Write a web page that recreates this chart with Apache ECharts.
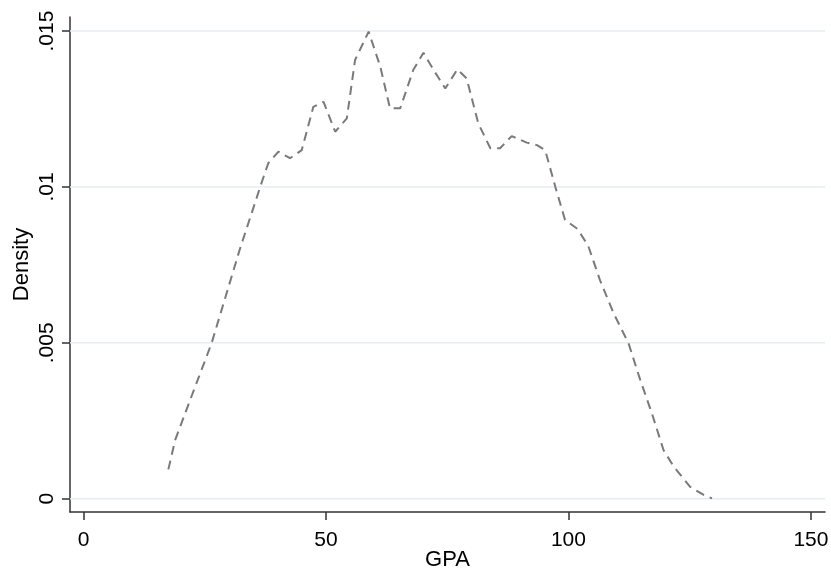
<!DOCTYPE html>
<html>
<head>
<meta charset="utf-8">
<script src="https://cdn.jsdelivr.net/npm/echarts@6/dist/echarts.min.js"></script>
<style>
  html, body { margin: 0; padding: 0; background: #ffffff; }
  #chart { width: 831px; height: 571px; }
</style>
</head>
<body>
<div id="chart"></div>
<script>
// Kernel density estimate of GPA
const gpa = [17.5, 18.9, 22.0, 26.4, 32.3, 36.8, 38.1, 40.2, 42.6, 45.0, 47.4, 49.5, 51.9, 54.3,
  56.0, 58.8, 61.2, 63.2, 65.3, 68.0, 70.1, 72.2, 74.6, 77.1, 79.0, 81.4, 83.9, 85.9, 88.3,
  91.4, 93.5, 95.2, 97.3, 99.3, 101.9, 104.1, 106.5, 109.3, 112.4, 114.8, 117.2, 119.6,
  121.7, 125.1, 127.9, 129.6];
const density = [0.00094, 0.00188, 0.00317, 0.00498, 0.00803, 0.01017, 0.01076, 0.01113,
  0.01092, 0.01118, 0.01257, 0.01273, 0.01177, 0.01220, 0.01407, 0.01498, 0.01386, 0.01252,
  0.01252, 0.01375, 0.01430, 0.01375, 0.01316, 0.01377, 0.01348, 0.01204, 0.01124, 0.01124,
  0.01163, 0.01142, 0.01134, 0.01118, 0.01000, 0.00894, 0.00865, 0.00810, 0.00701, 0.00595,
  0.00498, 0.00381, 0.00274, 0.00156, 0.00103, 0.00038, 0.00012, 0.00001];

const xTicks = [0, 50, 100, 150];
const yTicks = [0, 0.005, 0.01, 0.015];
const yTickLabels = ['0', '.005', '.01', '.015'];

const xMin = -2.78, xMax = 152.9;
const yMin = -0.000427, yMax = 0.01545;

const font = 'Liberation Sans, Arial, sans-serif';
const axisColor = '#333333';

// horizontal reference lines at each labelled density level
const gridSeries = yTicks.map(t => ({
  type: 'line',
  data: [[xMin, t], [xMax, t]],
  showSymbol: false,
  symbol: 'none',
  silent: true,
  lineStyle: { color: '#e6edf0', width: 1.5, type: 'solid' },
  z: 1
}));

const chart = echarts.init(document.getElementById('chart'), null, { renderer: 'canvas' });
chart.setOption({
  animation: false,
  backgroundColor: '#ffffff',
  grid: { left: 70, top: 17, width: 755, height: 495, containLabel: false, outerBoundsMode: 'none' },
  xAxis: {
    type: 'value',
    min: xMin,
    max: xMax,
    name: 'GPA',
    nameLocation: 'middle',
    nameGap: 37,
    nameMoveOverlap: false,
    nameTextStyle: { fontFamily: font, fontSize: 22, color: '#000' },
    axisLine: { show: true, onZero: false, lineStyle: { color: axisColor, width: 1.5 } },
    axisTick: { show: true, length: 8, customValues: xTicks, lineStyle: { color: axisColor, width: 1.5 } },
    axisLabel: { customValues: xTicks, margin: 18, fontFamily: font, fontSize: 21, color: '#000' },
    splitLine: { show: false }
  },
  yAxis: {
    type: 'value',
    min: yMin,
    max: yMax,
    name: 'Density',
    nameLocation: 'middle',
    nameGap: 37,
    nameMoveOverlap: false,
    nameRotate: 90,
    nameTextStyle: { fontFamily: font, fontSize: 22, color: '#000' },
    axisLine: { show: true, onZero: false, lineStyle: { color: axisColor, width: 1.5 } },
    axisTick: { show: true, length: 8, customValues: yTicks, lineStyle: { color: axisColor, width: 1.5 } },
    axisLabel: {
      customValues: yTicks,
      rotate: 90,
      margin: 12,
      fontFamily: font,
      fontSize: 21,
      color: '#000',
      formatter: function (v) {
        const i = yTicks.findIndex(t => Math.abs(t - v) < 1e-9);
        return i >= 0 ? yTickLabels[i] : '';
      }
    },
    splitLine: { show: false }
  },
  series: gridSeries.concat([{
    type: 'line',
    data: gpa.map((g, i) => [g, density[i]]),
    showSymbol: false,
    symbol: 'none',
    lineStyle: { color: '#7a7a7a', width: 2, type: [9, 6] },
    z: 3
  }])
});
</script>
</body>
</html>
